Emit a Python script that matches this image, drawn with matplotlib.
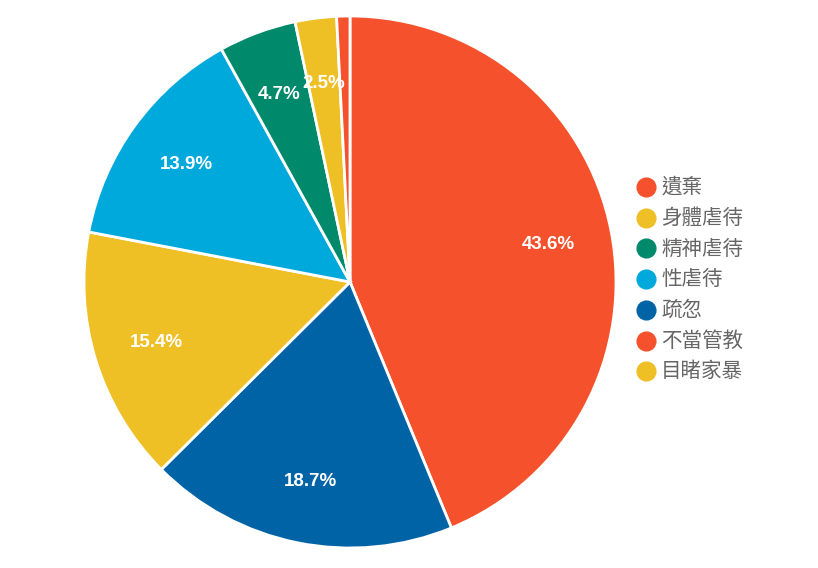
import matplotlib
matplotlib.use("Agg")
import matplotlib.pyplot as plt
import numpy as np

# Data (clockwise from top)
slice_labels = ["遺棄", "疏忽", "身體虐待", "性虐待", "精神虐待", "目睹家暴", "不當管教"]
slice_values = [43.6, 18.7, 15.4, 13.9, 4.7, 2.5, 0.8]
slice_colors = ["#F4512C", "#0063A6", "#EFBF26", "#00A9DC", "#00896B", "#EFBF26", "#F4512C"]
shown_pct = ["43.6%", "18.7%", "15.4%", "13.9%", "4.7%", "2.5%", ""]

legend_labels = ["遺棄", "身體虐待", "精神虐待", "性虐待", "疏忽", "不當管教", "目睹家暴"]
legend_colors = ["#F4512C", "#EFBF26", "#00896B", "#00A9DC", "#0063A6", "#F4512C", "#EFBF26"]

W, H = 818, 568
fig = plt.figure(figsize=(W / 100, H / 100), dpi=100)
cx, cy, r = 350, 282, 266
ax = fig.add_axes([(cx - r) / W, (H - cy - r) / H, 2 * r / W, 2 * r / H])

wedges, texts = ax.pie(slice_values, colors=slice_colors, startangle=90, counterclock=False,
                       wedgeprops=dict(edgecolor="white", linewidth=2), radius=1)
for w, lab in zip(wedges, shown_pct):
    if not lab:
        continue
    ang = np.deg2rad((w.theta1 + w.theta2) / 2)
    d = 0.76
    ax.text(d * np.cos(ang), d * np.sin(ang) - 0.006, lab, ha="center", va="center",
            color="white", fontsize=13.5, fontweight="bold",
            family=["Liberation Sans", "DejaVu Sans"])
ax.set_xlim(-1, 1)
ax.set_ylim(-1, 1)
ax.set_aspect("equal")
ax.axis("off")

# Legend drawn manually in figure pixel coordinates
lx_marker, lx_text, ly0, dy = 646, 661, 187, 30.7
for i, (lab, col) in enumerate(zip(legend_labels, legend_colors)):
    y = ly0 + i * dy
    fig.add_artist(plt.Line2D([lx_marker / W], [1 - y / H], marker="o", linestyle="",
                              markersize=13.5, markerfacecolor=col, markeredgecolor=col,
                              transform=fig.transFigure))
    fig.text(lx_text / W, 1 - y / H, lab, ha="left", va="center", color="#666666",
             fontsize=14.8, family=["Noto Sans CJK TC", "DejaVu Sans"])

fig.savefig("out.png", dpi=100)
